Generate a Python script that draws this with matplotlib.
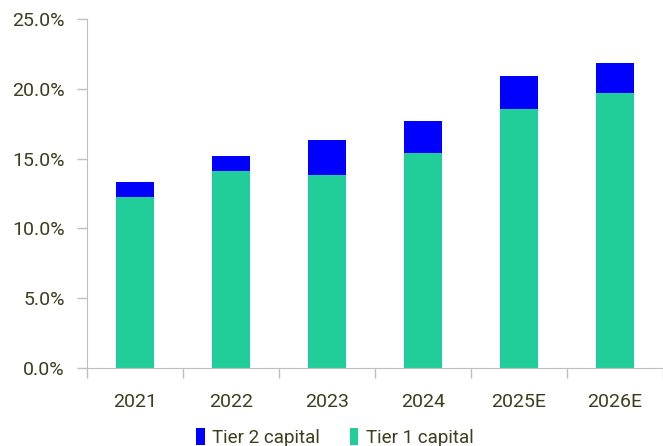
import numpy as np
import matplotlib
matplotlib.use("Agg")
import matplotlib.pyplot as plt
from matplotlib.ticker import FuncFormatter, FixedLocator

years = ["2021", "2022", "2023", "2024", "2025E", "2026E"]
tier1 = [12.25, 14.1, 13.8, 15.4, 18.55, 19.7]
tier2 = [1.05, 1.1, 2.5, 2.3, 2.35, 2.15]

text_col = "#3d3d1f"
plt.rcParams['font.family'] = ['Roboto', 'DejaVu Sans']

fig = plt.figure(figsize=(6.63, 4.46), dpi=100)
ax = fig.add_axes([87 / 663, 1 - 368 / 446, 576 / 663, 349 / 446])

x = np.arange(len(years))
ax.bar(x, tier1, width=0.4, color="#21CE99", label="Tier 1 capital", zorder=2)
ax.bar(x, tier2, width=0.4, bottom=tier1, color="#0000FF", label="Tier 2 capital", zorder=2)

ax.set_xlim(-0.5, len(years) - 0.5)
ax.set_ylim(0, 25)
ax.set_yticks(np.arange(0, 25.1, 5))
ax.yaxis.set_major_formatter(FuncFormatter(lambda v, p: f"{v:.1f}%"))

# category ticks between bars, labels centred under them
ax.set_xticks(x)
ax.set_xticklabels(years)
ax.xaxis.set_minor_locator(FixedLocator(np.arange(-0.5, len(years), 1)))
ax.tick_params(axis="x", which="major", length=0, pad=18, labelsize=14, labelcolor=text_col)
ax.tick_params(axis="x", which="minor", length=7, color="#bfbfbf", width=1)
ax.tick_params(axis="y", length=7, color="#bfbfbf", width=1, labelsize=14, labelcolor=text_col, pad=9)

for s in ["top", "right"]:
    ax.spines[s].set_visible(False)
for s in ["left", "bottom"]:
    ax.spines[s].set_color("#bfbfbf")

handles, labels = ax.get_legend_handles_labels()
fig.legend(handles[::-1], labels[::-1], loc="lower center", bbox_to_anchor=(0.505, -0.04),
           ncol=2, frameon=False, fontsize=13.5, labelcolor=text_col,
           handlelength=0.45, handleheight=1.0, handletextpad=0.4, columnspacing=1.6)

fig.savefig("out.png", dpi=100)
